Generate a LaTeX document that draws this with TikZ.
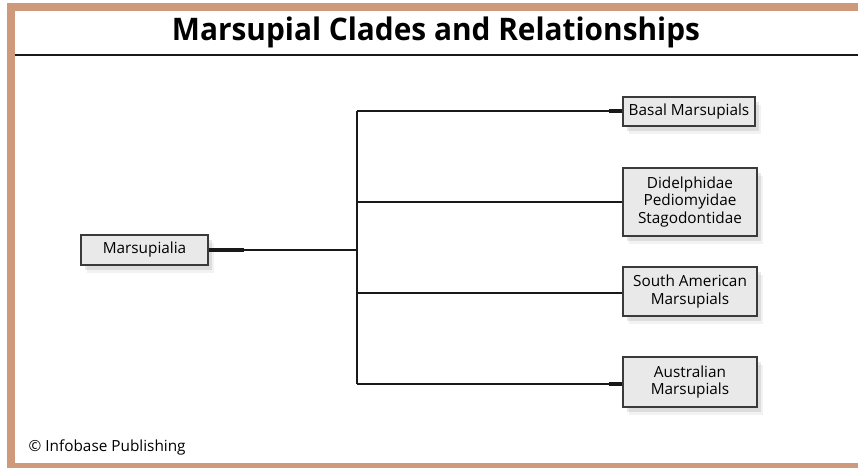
\documentclass[tikz,border=0pt]{standalone}
\usepackage{fontspec}
\setmainfont{Open Sans}
\newfontfamily\titlefont[FakeStretch=0.96]{Open Sans Bold}
\usetikzlibrary{shadows}
\definecolor{frametan}{HTML}{CF9A7B}
\definecolor{boxfill}{HTML}{E9E9E9}
\definecolor{boxline}{HTML}{3A3A3A}
\begin{document}
\begin{tikzpicture}[x=0.75pt,y=-0.75pt,
  clade/.style={draw=boxline, line width=0.9pt, fill=boxfill, align=center,
    font=\fontsize{11.5}{13.3}\selectfont, inner sep=0pt,
    drop shadow={opacity=0.10, shadow xshift=4.5pt, shadow yshift=-6pt},
    drop shadow={opacity=0.18, shadow xshift=3pt, shadow yshift=-4pt}},
  thin/.style={line width=1pt, draw=black!90},
  stub/.style={line width=2.8pt, draw=black!90}]
\useasboundingbox (0,0) rectangle (858,468);
\fill[white] (0,0) rectangle (858,468);
% frame
\fill[frametan] (7,3) rectangle (858,11);
\fill[frametan] (7,3) rectangle (15,468);
\fill[frametan] (7,463) rectangle (858,468);
\draw[line width=1.6pt, black!90] (15,55) -- (858,55);
\node[font=\titlefont\fontsize{23.3}{26}\selectfont] (title) at (436,32) {Marsupial Clades and Relationships};
% boxes
\node[clade, minimum width=127*0.75pt, minimum height=30*0.75pt] (root) at (144.5,250) {Marsupialia};
\node[clade, minimum width=132*0.75pt, minimum height=29*0.75pt] (basal) at (689,111.5) {Basal Marsupials};
\node[clade, minimum width=134*0.75pt, minimum height=68*0.75pt] (didel) at (690,202) {Didelphidae\\Pediomyidae\\Stagodontidae};
\node[clade, minimum width=134*0.75pt, minimum height=49*0.75pt] (south) at (690,291.5) {South American\\Marsupials};
\node[clade, minimum width=134*0.75pt, minimum height=50*0.75pt] (austr) at (690,382) {Australian\\Marsupials};
% branch points
\coordinate (j) at (357,250);
\coordinate (j1) at (357,111);
\coordinate (j4) at (357,384);
\draw[thin] (root.east) -- (j);
\draw[stub] (root.east) -- ++(35,0);
\draw[thin] (j1) -- (j4);
\draw[thin] (j1) -- (basal.west |- j1);
\draw[stub] (basal.west |- j1) -- ++(-13,0);
\draw[thin] (didel.west |- 0,202) -- (357,202);
\draw[thin] (south.west |- 0,293) -- (357,293);
\draw[thin] (j4) -- (austr.west |- j4);
\draw[stub] (austr.west |- j4) -- ++(-13,0);
\node[anchor=west, font=\fontsize{11.5}{13}\selectfont] (copy) at (24,447) {© Infobase Publishing};
\end{tikzpicture}
\end{document}
